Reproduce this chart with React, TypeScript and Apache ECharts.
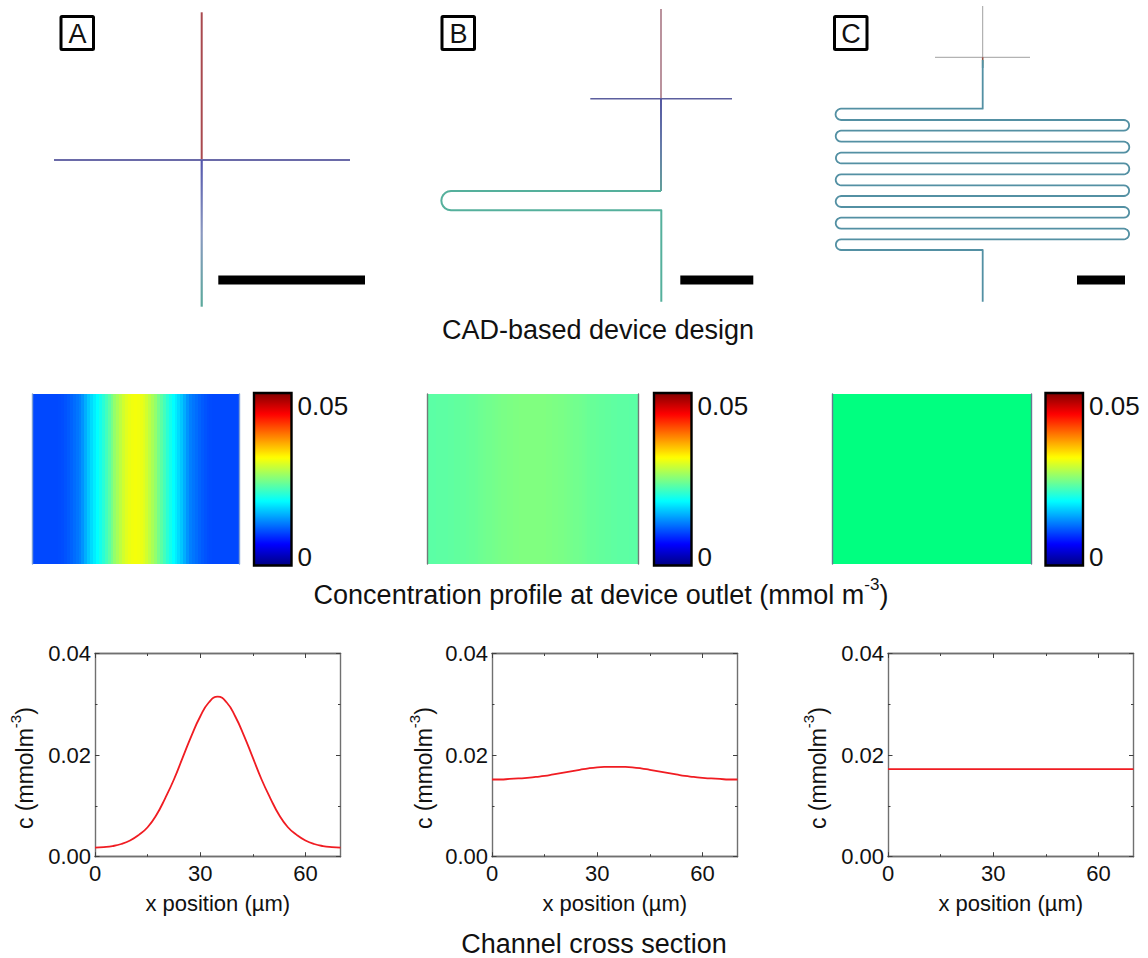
import React, { useEffect, useRef } from "react";
import * as echarts from "echarts";

// ---- cross-section curves (x in µm, c in mmol m-3)
const xA = [0, 2.5, 5, 7.5, 10, 12.5, 15, 17.5, 20, 22.5, 25, 27.5, 30, 32.5, 35, 37.5, 40, 42.5, 45, 47.5, 50, 52.5, 55, 57.5, 60, 62.5, 65, 67.5, 70];
const cA = [0.0018, 0.0019, 0.0021, 0.0025, 0.0032, 0.0043, 0.0058, 0.0082, 0.0115, 0.0152, 0.0195, 0.0238, 0.0276, 0.0304, 0.0315, 0.0304, 0.0276, 0.0238, 0.0195, 0.0152, 0.0115, 0.0082, 0.0058, 0.0043, 0.0032, 0.0025, 0.0021, 0.0019, 0.0018];
const xB = [0, 2.5, 5, 7.5, 10, 12.5, 15, 17.5, 20, 22.5, 25, 27.5, 30, 32.5, 35, 37.5, 40, 42.5, 45, 47.5, 50, 52.5, 55, 57.5, 60, 62.5, 65, 67.5, 70];
const cB = [0.0152, 0.0152, 0.0153, 0.0154, 0.0155, 0.0157, 0.0159, 0.0162, 0.0165, 0.0168, 0.0171, 0.0174, 0.0176, 0.01768, 0.0177, 0.01768, 0.0176, 0.0174, 0.0171, 0.0168, 0.0165, 0.0162, 0.0159, 0.0157, 0.0155, 0.0154, 0.0153, 0.0152, 0.0152];
const xC = [0, 35, 70];
const cC = [0.01725, 0.01725, 0.01725];

// ---- outlet profiles (colour value, one column per µm)
const profileA = [
  0.00975, 0.00975, 0.00975, 0.00975, 0.00975, 0.00975, 0.00975, 0.00975, 0.00975, 0.00985, 0.01, 0.0103, 0.01065, 0.0111, 0.01155, 0.012, 0.0125, 0.0135, 0.01475, 0.016, 0.017, 0.0179, 0.01875, 0.01975, 0.02075, 0.022, 0.02325, 0.0245, 0.026, 0.027, 0.028, 0.029, 0.02975, 0.03025, 0.0306, 0.03075,
  0.0306, 0.03025, 0.02975, 0.029, 0.028, 0.027, 0.026, 0.0245, 0.02325, 0.022, 0.02075, 0.01975, 0.01875, 0.0179, 0.017, 0.016, 0.01475, 0.0135, 0.0125, 0.012, 0.01155, 0.0111, 0.01065, 0.0103, 0.01, 0.00985, 0.00975, 0.00975, 0.00975, 0.00975, 0.00975, 0.00975, 0.00975, 0.00975, 0.00975,
];
const profileB = [
  0.0232, 0.0232, 0.0232, 0.0233, 0.0233, 0.0233, 0.0233, 0.0234, 0.0234, 0.0235, 0.0235, 0.0236, 0.0236, 0.0237, 0.0238, 0.0238, 0.0239, 0.024, 0.0241, 0.0242, 0.0243, 0.0243, 0.0244, 0.0245, 0.0246, 0.0247, 0.0247, 0.0248, 0.0248, 0.0249, 0.0249, 0.025, 0.025, 0.025, 0.025, 0.025,
  0.025, 0.025, 0.025, 0.025, 0.0249, 0.0249, 0.0248, 0.0248, 0.0247, 0.0247, 0.0246, 0.0245, 0.0244, 0.0243, 0.0243, 0.0242, 0.0241, 0.024, 0.0239, 0.0238, 0.0238, 0.0237, 0.0236, 0.0236, 0.0235, 0.0235, 0.0234, 0.0234, 0.0233, 0.0233, 0.0233, 0.0233, 0.0232, 0.0232, 0.0232,
];
const profileC = [
  0.0173, 0.0173, 0.0173, 0.0173, 0.0173, 0.0173, 0.0173, 0.0173, 0.0173, 0.0173, 0.0173, 0.0173, 0.0173, 0.0173, 0.0173, 0.0173, 0.0173, 0.0173, 0.0173, 0.0173, 0.0173, 0.0173, 0.0173, 0.0173, 0.0173, 0.0173, 0.0173, 0.0173, 0.0173, 0.0173, 0.0173, 0.0173, 0.0173, 0.0173, 0.0173, 0.0173,
  0.0173, 0.0173, 0.0173, 0.0173, 0.0173, 0.0173, 0.0173, 0.0173, 0.0173, 0.0173, 0.0173, 0.0173, 0.0173, 0.0173, 0.0173, 0.0173, 0.0173, 0.0173, 0.0173, 0.0173, 0.0173, 0.0173, 0.0173, 0.0173, 0.0173, 0.0173, 0.0173, 0.0173, 0.0173, 0.0173, 0.0173, 0.0173, 0.0173, 0.0173, 0.0173,
];
const jet = ["#00007f", "#0000ff", "#0080ff", "#00ffff", "#80ff80", "#ffff00", "#ff8000", "#ff0000", "#7f0000"];

// ---- device layouts (drawing units of the schematic plane)
const channelRowsC = [108.7, 120, 130.7, 141.7, 152.7, 163.3, 174.3, 185.3, 196, 207, 217.7, 228.7, 239.3, 250];
const xTicksMajor = [0, 30, 60];
const xTicksMinor = [15, 45];

const F = '"Liberation Sans", Arial, sans-serif';
const plotRects = [
  { left: 95, width: 245.5 },
  { left: 492, width: 245.5 },
  { left: 888, width: 245.5 },
];
const nameGaps = [59, 57, 59];
const heatRects = [
  { left: 32.5, width: 206.5, edge: "#7d9fd6" },
  { left: 427.5, width: 211, edge: "#707a78" },
  { left: 832, width: 199.5, edge: "#667a90" },
];
const barLefts = [253.5, 653.5, 1045];
const boxLefts = [61, 442, 834.5];
const letters = ["A", "B", "C"];

function uTurn(cx: number, y1: number, y2: number, dir: number) {
  const r = (y2 - y1) / 2;
  const cy = (y1 + y2) / 2;
  const pts: number[][] = [];
  for (let i = 0; i <= 10; i++) {
    const a = -Math.PI / 2 + (Math.PI * i) / 10;
    pts.push([cx + dir * r * Math.cos(a), cy + r * Math.sin(a)]);
  }
  return pts;
}

function serpentine() {
  const pts: number[][] = [[982.7, 60], [982.7, 108.7]];
  for (let i = 0; i < channelRowsC.length - 1; i++) {
    const left = i % 2 === 0;
    pts.push(...uTurn(left ? 841.2 : 1123.8, channelRowsC[i], channelRowsC[i + 1], left ? -1 : 1));
  }
  pts.push([982.7, 250], [982.7, 301.7]);
  return pts;
}

function vGrad(y1: number, y2: number, stops: [number, string][]) {
  return new echarts.graphic.LinearGradient(0, y1, 0, y2, stops.map(([offset, color]) => ({ offset, color })), true);
}

function renderCell(params: any, api: any) {
  const p = api.coord([api.value(0), api.value(1)]);
  const s = api.size([1, 1]);
  const x0 = Math.floor(p[0] - s[0] / 2);
  return {
    type: "rect",
    shape: { x: x0, y: p[1] - s[1] / 2, width: Math.ceil(s[0]) + 1, height: s[1] },
    style: { fill: api.visual("color") },
  };
}

function buildOption() {
  const grid: any[] = [];
  const xAxis: any[] = [];
  const yAxis: any[] = [];
  const series: any[] = [];
  const visualMap: any[] = [];
  const graphic: any[] = [];
  const axisLine = { show: true, onZero: false, lineStyle: { color: "#707070", width: 1.4 } };
  const tickStyle = { color: "#404040", width: 1 };
  const label = { color: "#111", fontFamily: F, fontSize: 22 };

  // line plots
  const curves = [
    [xA, cA],
    [xB, cB],
    [xC, cC],
  ];
  plotRects.forEach((r, i) => {
    grid.push({ left: r.left, width: r.width, top: 653.5, height: 203.2 });
    const base = xAxis.length;
    const ybase = yAxis.length;
    const xCommon = { type: "value", gridIndex: i, min: 0, max: 70, splitLine: { show: false }, axisLine };
    xAxis.push({
      ...xCommon,
      position: "bottom",
      name: "x position (µm)",
      nameLocation: "middle",
      nameGap: 36,
      nameTextStyle: label,
      axisTick: { show: true, inside: true, length: 4.5, lineStyle: tickStyle, customValues: xTicksMajor },
      axisLabel: { ...label, show: true, margin: 6, customValues: xTicksMajor, showMinLabel: true, showMaxLabel: true },
    });
    xAxis.push({
      ...xCommon,
      position: "top",
      axisTick: { show: true, inside: true, length: 4.5, lineStyle: tickStyle, customValues: xTicksMajor },
      axisLabel: { show: false },
    });
    xAxis.push({
      ...xCommon,
      position: "bottom",
      axisTick: { show: true, inside: true, length: 2.5, lineStyle: tickStyle, customValues: xTicksMinor },
      axisLabel: { show: false },
    });
    xAxis.push({
      ...xCommon,
      position: "top",
      axisTick: { show: true, inside: true, length: 2.5, lineStyle: tickStyle, customValues: xTicksMinor },
      axisLabel: { show: false },
    });
    const yCommon = {
      type: "value",
      gridIndex: i,
      min: 0,
      max: 0.04,
      interval: 0.02,
      splitLine: { show: false },
      minorSplitLine: { show: false },
      axisLine,
      axisTick: { show: true, inside: true, length: 4.5, lineStyle: tickStyle },
      minorTick: { show: true, splitNumber: 2, length: 2.5, lineStyle: tickStyle },
    };
    yAxis.push({
      ...yCommon,
      position: "left",
      name: "{a|c (mmolm}{b|-3}{a|)}",
      nameLocation: "middle",
      nameGap: nameGaps[i],
      nameRotate: 90,
      nameTextStyle: {
        padding: [0, 26, 0, 0],
        rich: {
          a: { fontFamily: F, fontSize: 23, color: "#111", lineHeight: 28, verticalAlign: "bottom" },
          b: { fontFamily: F, fontSize: 15, color: "#111", lineHeight: 28, verticalAlign: "top", padding: [0, 0, 6, 0] },
        },
      },
      axisLabel: { ...label, margin: 4, formatter: (v: number) => v.toFixed(2) },
    });
    yAxis.push({ ...yCommon, position: "right", axisLabel: { show: false } });
    const [xs, ys] = curves[i];
    series.push({
      type: "line",
      xAxisIndex: base,
      yAxisIndex: ybase,
      data: xs.map((x, k) => [x, ys[k]]),
      showSymbol: false,
      smooth: 0.5,
      lineStyle: { color: "#f01c22", width: 1.8 },
      silent: true,
    });
  });

  // heat panels
  const profiles = [profileA, profileB, profileC];
  const heatColors = [jet, jet, ["#00ff80", "#00ff80"]];
  heatRects.forEach((r, i) => {
    const g = grid.length;
    grid.push({ left: r.left, width: r.width, top: 394, height: 170 });
    const categories = profiles[i].map((_, k) => String(k));
    const xi = xAxis.length;
    const yi = yAxis.length;
    xAxis.push({ type: "category", gridIndex: g, data: categories, show: false });
    const yCommon = {
      type: "category",
      gridIndex: g,
      data: ["outlet"],
      axisLine: { show: true, onZero: false, lineStyle: { color: r.edge, width: 1.4 } },
      axisTick: { show: false },
      axisLabel: { show: false },
      splitLine: { show: false },
      z: 5,
    };
    yAxis.push({ ...yCommon, position: "left" });
    yAxis.push({ ...yCommon, position: "right" });
    const si = series.length;
    series.push({
      type: "custom",
      xAxisIndex: xi,
      yAxisIndex: yi,
      data: profiles[i].map((v, k) => [k, 0, v]),
      encode: { x: 0, y: 1 },
      renderItem: renderCell,
      clip: true,
      silent: true,
      z: 1,
    });
    visualMap.push({
      type: "continuous",
      show: false,
      min: 0,
      max: 0.05,
      dimension: 2,
      seriesIndex: si,
      inRange: { color: heatColors[i] },
    });
    // colour bar
    visualMap.push({
      type: "continuous",
      show: true,
      min: 0,
      max: 0.05,
      seriesIndex: [],
      left: barLefts[i],
      top: 392.5,
      itemWidth: 38,
      itemHeight: 173.5,
      padding: 0,
      calculable: false,
      hoverLink: false,
      inRange: { color: jet },
      z: 3,
    });
    graphic.push({
      type: "rect",
      z: 50,
      shape: { x: barLefts[i] + 0.5, y: 393, width: 37.5, height: 172.5 },
      style: { fill: "none", stroke: "#000", lineWidth: 2.4 },
    });
    graphic.push({
      type: "text",
      z: 50,
      x: barLefts[i] + 44,
      y: 406,
      style: { text: "0.05", font: `26px ${F}`, fill: "#111", textAlign: "left", textVerticalAlign: "middle" },
    });
    graphic.push({
      type: "text",
      z: 50,
      x: barLefts[i] + 44,
      y: 557,
      style: { text: "0", font: `26px ${F}`, fill: "#111", textAlign: "left", textVerticalAlign: "middle" },
    });
  });

  // schematic plane
  const gs = grid.length;
  grid.push({ left: 0, top: 0, width: 1148, height: 320 });
  const xs = xAxis.length;
  const ys = yAxis.length;
  xAxis.push({ type: "value", gridIndex: gs, min: 0, max: 1148, show: false });
  yAxis.push({ type: "value", gridIndex: gs, min: 0, max: 320, inverse: true, show: false });
  const device = (data: number[][], color: any, width: number) =>
    series.push({
      type: "line",
      xAxisIndex: xs,
      yAxisIndex: ys,
      data,
      showSymbol: false,
      silent: true,
      clip: false,
      lineStyle: { color, width, cap: "butt", join: "round" },
    });
  // A
  device([[201.7, 12.3], [201.7, 160]], "#a9494f", 2);
  device([[54, 160], [350, 160]], "#6a6aa8", 1.8);
  device([[201.7, 160], [201.7, 306.7]], vGrad(160, 306.7, [[0, "#5356ad"], [0.5, "#8a98c0"], [1, "#5aa99b"]]), 2.2);
  // B
  device([[661, 9], [661, 98.7]], "#8c4a5c", 1.2);
  device([[590.3, 98.7], [732, 98.7]], "#5c5f9e", 1.6);
  device(
    [[661, 98.7], [661, 191]],
    vGrad(98.7, 191, [[0, "#4c4f9d"], [0.5, "#5f74a5"], [1, "#5a9a95"]]),
    1.9
  );
  device(
    [[661, 191], ...uTurn(451, 191, 210.3, -1), [661.3, 210.3], [661.3, 301.7]],
    "#55b09c",
    2
  );
  // C
  device([[982.7, 6], [982.7, 57.3]], "#a0a0a0", 1);
  device([[935, 57.3], [1030, 57.3]], "#a0a0a0", 1);
  device([[982.7, 57.3], [982.7, 68]], vGrad(57.3, 68, [[0, "#a04040"], [0.5, "#608050"], [1, "#4f8ea0"]]), 1.6);
  device(serpentine().slice(0), "#5390a3", 1.8);
  // scale bars
  device([[218.3, 280], [365, 280]], "#000", 9);
  device([[680.3, 280], [753.3, 280]], "#000", 9);
  device([[1077, 280], [1125, 280]], "#000", 9);

  // panel letters
  boxLefts.forEach((l, i) => {
    graphic.push({
      type: "rect",
      z: 50,
      shape: { x: l, y: 16.5, width: 32.5, height: 33, r: 1 },
      style: { fill: "#fff", stroke: "#000", lineWidth: 3 },
    });
    graphic.push({
      type: "text",
      z: 51,
      x: l + 16.5,
      y: 33.5,
      style: { text: letters[i], font: `27px ${F}`, fill: "#111", textAlign: "center", textVerticalAlign: "middle" },
    });
  });

  // row captions
  graphic.push({
    type: "text",
    x: 598,
    y: 330,
    style: { text: "CAD-based device design", font: `27px ${F}`, fill: "#111", textAlign: "center", textVerticalAlign: "middle" },
  });
  graphic.push({
    type: "text",
    x: 601,
    y: 592,
    style: {
      text: "{a|Concentration profile at device outlet (mmol m}{b|-3}{a|)}",
      textAlign: "center",
      textVerticalAlign: "middle",
      rich: {
        a: { fontFamily: F, fontSize: 27, fill: "#111", color: "#111", lineHeight: 32, verticalAlign: "bottom" },
        b: { fontFamily: F, fontSize: 17, fill: "#111", color: "#111", lineHeight: 32, verticalAlign: "top" },
      },
    },
  });
  graphic.push({
    type: "text",
    x: 594,
    y: 944,
    style: { text: "Channel cross section", font: `27px ${F}`, fill: "#111", textAlign: "center", textVerticalAlign: "middle" },
  });

  return {
    animation: false,
    backgroundColor: "#fff",
    grid,
    xAxis,
    yAxis,
    series,
    visualMap,
    graphic: { elements: graphic },
  };
}

export default function App() {
  const ref = useRef<HTMLDivElement>(null);
  useEffect(() => {
    const chart = echarts.init(ref.current!, undefined, { renderer: "svg" });
    chart.setOption(buildOption() as any);
    return () => chart.dispose();
  }, []);
  return <div ref={ref} style={{ position: "absolute", left: 0, top: 0, width: 1148, height: 958 }} />;
}
